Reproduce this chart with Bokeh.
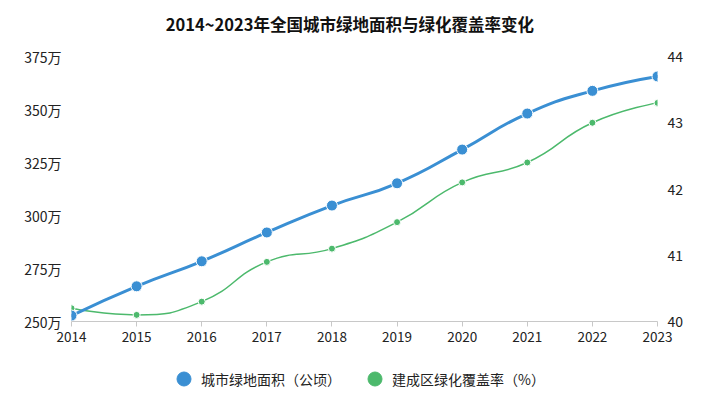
import numpy as np
from bokeh.plotting import figure
from bokeh.layouts import column
from bokeh.models import (Range1d, LinearAxis, FixedTicker, CustomJSTickFormatter,
                          Legend, LegendItem, ColumnDataSource, Label)
from bokeh.embed import file_html
from bokeh.resources import INLINE

# ---------------- data ----------------
years = [2014, 2015, 2016, 2017, 2018, 2019, 2020, 2021, 2022, 2023]
green_area_wan = [252.8, 266.6, 278.4, 292.0, 304.7, 315.2, 331.1, 348.1, 358.8, 365.6]  # 万公顷
coverage_pct = [40.2, 40.1, 40.3, 40.9, 41.1, 41.5, 42.1, 42.4, 43.0, 43.3]
left_ticks = [250, 275, 300, 325, 350, 375]
right_ticks = [40, 41, 42, 43, 44]
title_text = "2014~2023年全国城市绿地面积与绿化覆盖率变化"
series_names = ["城市绿地面积（公顷）", "建成区绿化覆盖率（%）"]

BLUE = "#3a8fd3"
GREEN = "#4cb96c"
FONT = "Noto Sans CJK SC"

W, H0, H1, H2 = 712, 44, 306, 44
BL, BR, BT, BB = 71, 55, 12, 29
FW, FH = W - BL - BR, H1 - BT - BB


def smooth_segments(xs, ys, kx, ky, smooth=0.5):
    """ECharts-like smoothed bezier segments, computed in pixel space."""
    P = np.column_stack([np.array(xs, float) * kx, np.array(ys, float) * ky])
    n = len(P)
    next_cp0 = P.copy()
    cp1 = P.copy()
    for i in range(1, n - 1):
        p, pr, nx = P[i], P[i - 1], P[i + 1]
        v = nx - pr
        lp = np.linalg.norm(p - pr)
        ln = np.linalg.norm(nx - p)
        r = ln / (ln + lp)
        nc = p + v * smooth * r
        nc = np.minimum(nc, np.maximum(nx, p))
        nc = np.maximum(nc, np.minimum(nx, p))
        c1 = p - (nc - p) * lp / ln
        c1 = np.minimum(c1, np.maximum(pr, p))
        c1 = np.maximum(c1, np.minimum(pr, p))
        nc = p + (p - c1) * ln / lp
        next_cp0[i] = nc
        cp1[i] = c1
    seg = dict(x0=[], y0=[], x1=[], y1=[], cx0=[], cy0=[], cx1=[], cy1=[])
    for i in range(n - 1):
        a, b = P[i], P[i + 1]
        c0 = next_cp0[i]
        c1 = cp1[i + 1]
        seg["x0"].append(a[0] / kx); seg["y0"].append(a[1] / ky)
        seg["x1"].append(b[0] / kx); seg["y1"].append(b[1] / ky)
        seg["cx0"].append(c0[0] / kx); seg["cy0"].append(c0[1] / ky)
        seg["cx1"].append(c1[0] / kx); seg["cy1"].append(c1[1] / ky)
    return ColumnDataSource(seg)


def strip(height):
    f = figure(width=W, height=height, output_backend="svg", toolbar_location=None,
               x_range=Range1d(0, 1), y_range=Range1d(0, 1), min_border=0,
               x_axis_location=None, y_axis_location=None)
    f.outline_line_color = None
    f.grid.visible = False
    f.background_fill_color = "white"
    f.border_fill_color = "white"
    return f


# ---------------- title strip ----------------
pt = strip(H0)
pt.add_layout(Label(x=0.475, y=0.475, text=title_text, text_align="center",
                    text_baseline="middle", text_font=FONT, text_font_size="16.5px",
                    text_font_style="bold", text_color="#111111"))

# ---------------- main chart ----------------
p = figure(width=W, height=H1, output_backend="svg", toolbar_location=None,
           x_range=Range1d(years[0], years[-1]),
           y_range=Range1d(left_ticks[0], left_ticks[-1]),
           min_border_left=BL, min_border_right=BR, min_border_top=BT, min_border_bottom=BB,
           y_axis_location=None, x_axis_location=None)
p.extra_y_ranges = {"cov": Range1d(right_ticks[0], right_ticks[-1])}
p.outline_line_color = None
p.grid.visible = False
p.background_fill_color = "white"
p.border_fill_color = "white"

xaxis = LinearAxis(ticker=FixedTicker(ticks=years))
xaxis.axis_line_color = "#c8c8c8"
xaxis.major_tick_line_color = "#c8c8c8"
xaxis.major_tick_out = 5
xaxis.major_tick_in = 0
xaxis.minor_tick_line_color = None
xaxis.major_label_text_font = FONT
xaxis.major_label_text_font_size = "13.5px"
xaxis.major_label_text_color = "#222222"
xaxis.major_label_standoff = 5
p.add_layout(xaxis, "below")

yl = LinearAxis(ticker=FixedTicker(ticks=left_ticks),
                formatter=CustomJSTickFormatter(code="return tick + '万';"))
yl.axis_line_color = None
yl.major_tick_line_color = None
yl.major_tick_out = 0
yl.major_tick_in = 0
yl.minor_tick_line_color = None
yl.major_label_text_font = FONT
yl.major_label_text_font_size = "14px"
yl.major_label_text_color = "#222222"
yl.major_label_standoff = 10
p.add_layout(yl, "left")

yr = LinearAxis(y_range_name="cov", ticker=FixedTicker(ticks=right_ticks))
yr.axis_line_color = None
yr.major_tick_line_color = None
yr.major_tick_out = 0
yr.major_tick_in = 0
yr.minor_tick_line_color = None
yr.major_label_text_font = FONT
yr.major_label_text_font_size = "14px"
yr.major_label_text_color = "#222222"
yr.major_label_standoff = 10
p.add_layout(yr, "right")

kx = FW / (years[-1] - years[0])
ky_l = FH / (left_ticks[-1] - left_ticks[0])
ky_r = FH / (right_ticks[-1] - right_ticks[0])

seg_g = smooth_segments(years, coverage_pct, kx, ky_r)
p.bezier("x0", "y0", "x1", "y1", "cx0", "cy0", "cx1", "cy1", source=seg_g,
         line_color=GREEN, line_width=1.5, y_range_name="cov")
p.scatter(years, coverage_pct, size=7, fill_color=GREEN, line_color="white",
          line_width=1, y_range_name="cov")

seg_b = smooth_segments(years, green_area_wan, kx, ky_l)
p.bezier("x0", "y0", "x1", "y1", "cx0", "cy0", "cx1", "cy1", source=seg_b,
         line_color=BLUE, line_width=3, line_cap="round")
p.scatter(years, green_area_wan, size=11, fill_color=BLUE, line_color="white", line_width=1)

# ---------------- legend strip ----------------
pl = strip(H2)
# legend swatches: one point each, placed outside the strip's visible range
lb = pl.scatter(x=[years[0]], y=[green_area_wan[0]], size=14, fill_color=BLUE, line_color=BLUE)
lg = pl.scatter(x=[years[0]], y=[coverage_pct[0]], size=14, fill_color=GREEN, line_color=GREEN)
legend = Legend(items=[LegendItem(label=series_names[0], renderers=[lb]),
                       LegendItem(label=series_names[1], renderers=[lg])],
                orientation="horizontal", location=(95, -2),
                glyph_width=35, glyph_height=35, label_standoff=0, spacing=16,
                padding=0, margin=0, border_line_color=None, background_fill_alpha=0,
                label_text_font=FONT, label_text_font_size="14px",
                label_text_color="#222222")
pl.add_layout(legend, "center")

layout = column(pt, p, pl, spacing=0)
open("out.html", "w").write(file_html(layout, INLINE))
